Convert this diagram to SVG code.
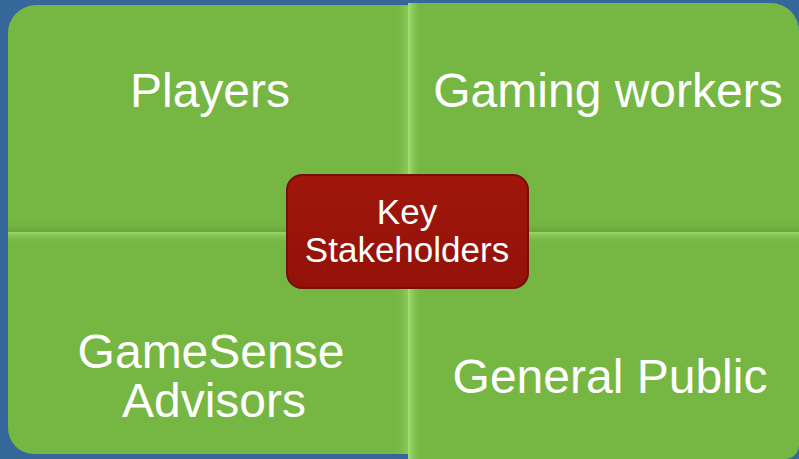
<svg xmlns="http://www.w3.org/2000/svg" width="799" height="459" viewBox="0 0 799 459">
<defs>
<style>
.q{fill:#76b743}
.lbl{font-family:"Liberation Sans",Arial,sans-serif;font-size:48px;fill:#ffffff;text-anchor:middle}
.klbl{font-family:"Liberation Sans",Arial,sans-serif;font-size:35px;fill:#ffffff;text-anchor:middle}
</style>
<linearGradient id="hv" x1="0" y1="0" x2="1" y2="0">
<stop offset="0" stop-color="#a6e47a" stop-opacity="0.9"/>
<stop offset="1" stop-color="#76b743" stop-opacity="0"/>
</linearGradient>
<linearGradient id="hvL" x1="1" y1="0" x2="0" y2="0">
<stop offset="0" stop-color="#8fd060" stop-opacity="0.8"/>
<stop offset="1" stop-color="#76b743" stop-opacity="0"/>
</linearGradient>
<linearGradient id="hh" x1="0" y1="0" x2="0" y2="1">
<stop offset="0" stop-color="#9ad86c" stop-opacity="0.9"/>
<stop offset="1" stop-color="#76b743" stop-opacity="0"/>
</linearGradient>
<linearGradient id="hhU" x1="0" y1="1" x2="0" y2="0">
<stop offset="0" stop-color="#5f9a34" stop-opacity="0.6"/>
<stop offset="1" stop-color="#76b743" stop-opacity="0"/>
</linearGradient>
<linearGradient id="red" x1="0" y1="0" x2="0" y2="1">
<stop offset="0" stop-color="#a0160c"/>
<stop offset="1" stop-color="#931208"/>
</linearGradient>
</defs>
<rect x="0" y="0" width="799" height="459" fill="#35679a"/>
<g id="connectors"/>
<g id="players">
<path class="q" d="M8,33 A28,28 0 0 1 36,5 L408,5 L408,232 L8,232 Z"/>
<rect x="394" y="6" width="14" height="226" fill="url(#hvL)"/>
<rect x="8" y="218" width="400" height="14" fill="url(#hhU)"/>
<text class="lbl" x="210" y="107">Players</text>
</g>
<g id="gaming-workers">
<path class="q" d="M408,3 L771,3 A28,28 0 0 1 799,31 L799,232 L408,232 Z"/>
<rect x="408" y="3" width="14" height="229" fill="url(#hv)"/>
<rect x="408" y="218" width="391" height="14" fill="url(#hhU)"/>
<text class="lbl" x="608" y="107">Gaming workers</text>
</g>
<g id="gamesense-advisors">
<path class="q" d="M8,232 L408,232 L408,454 L34,454 A26,26 0 0 1 8,428 Z"/>
<rect x="8" y="232" width="400" height="12" fill="url(#hh)"/>
<rect x="394" y="232" width="14" height="222" fill="url(#hvL)"/>
<text class="lbl" x="211" y="368">GameSense</text>
<text class="lbl" x="214" y="417">Advisors</text>
</g>
<g id="general-public">
<path class="q" d="M408,232 L799,232 L799,445 A14,14 0 0 1 785,459 L408,459 Z"/>
<rect x="408" y="232" width="391" height="12" fill="url(#hh)"/>
<rect x="408" y="232" width="14" height="227" fill="url(#hv)"/>
<text class="lbl" x="610" y="393">General Public</text>
</g>
<g id="key-stakeholders">
<rect x="287" y="175" width="241" height="113" rx="15" ry="15" fill="url(#red)" stroke="#7a0d05" stroke-width="2"/>
<text class="klbl" x="407" y="224">Key</text>
<text class="klbl" x="407" y="262">Stakeholders</text>
</g>
</svg>
